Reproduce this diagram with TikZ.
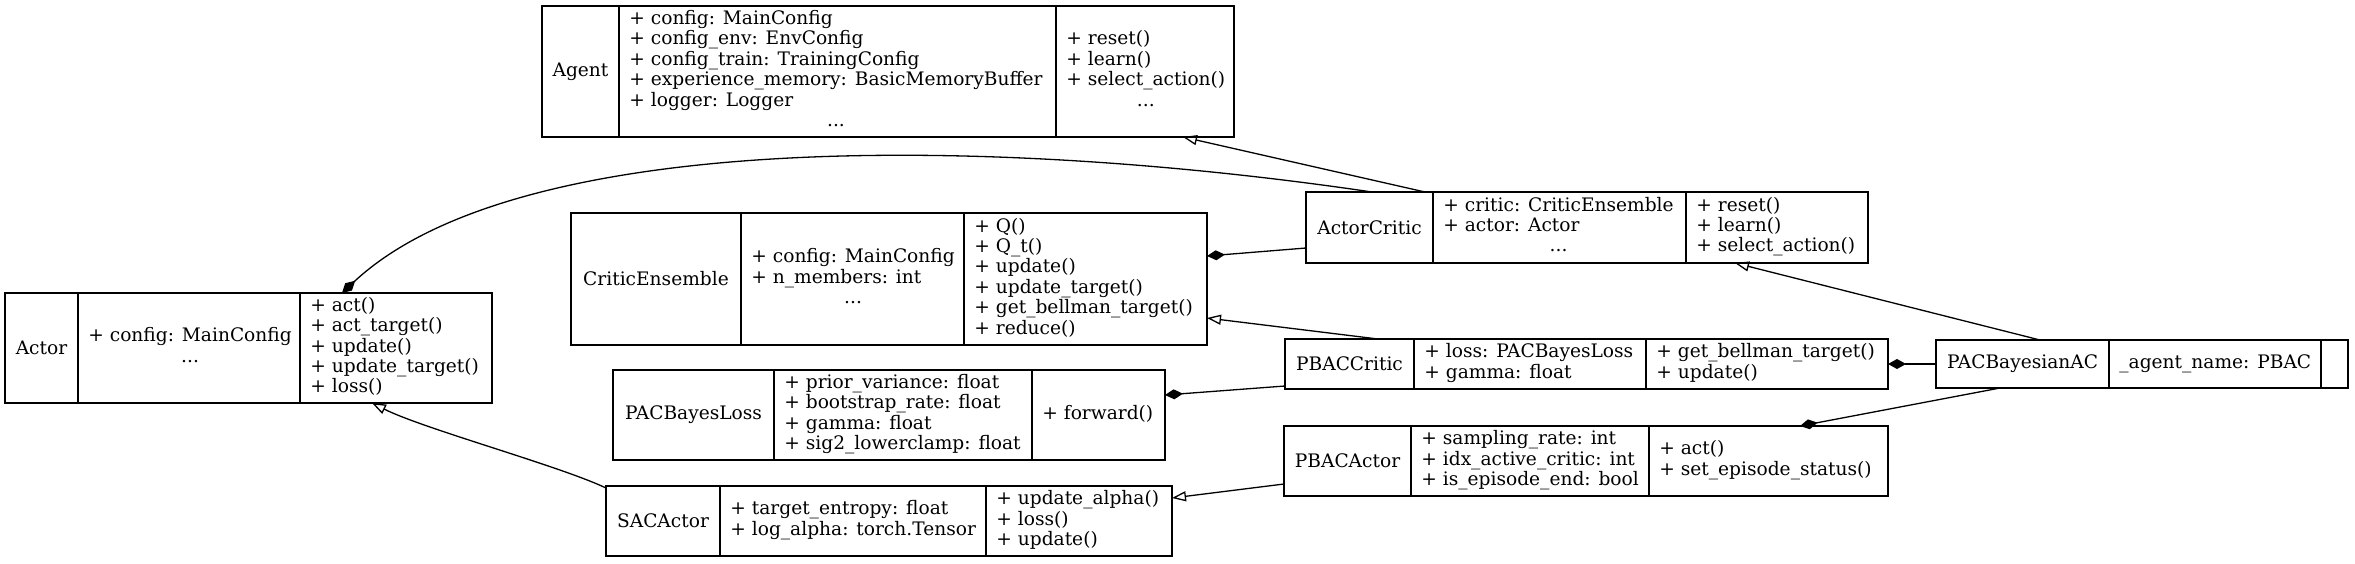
\documentclass[tikz,border=0pt]{standalone}
\usepackage{fontspec}
\setmainfont{DejaVu Serif}
\usetikzlibrary{arrows.meta,calc}
\newcommand\rec[8]{% name, style, L, d1, d2, R, T, B
  \pgfmathsetmacro\recw{(#6-#3)*0.5}%
  \pgfmathsetmacro\rech{(#8-#7)*0.5}%
  \node[#2, minimum width=\recw pt, minimum height=\rech pt] (#1) at ({(#3+#6)/2},{(#7+#8)/2}) {};
  \draw[#2] (#4,#7) -- (#4,#8) (#5,#7) -- (#5,#8);
}
\newcommand\lns[1]{\begin{tabular}{@{}l@{}}#1\end{tabular}}
\newcommand\mydots{\multicolumn{1}{@{}c@{}}{...}}
\begin{document}
\begin{tikzpicture}[x=0.5pt,y=-0.5pt,
  thickbox/.style={draw, line width=1.4pt, inner sep=0pt, outer sep=0pt},
  thinbox/.style={draw, line width=0.65pt, inner sep=0pt, outer sep=0pt},
  lbl/.style={font=\fontsize{9.3pt}{10.2pt}\selectfont, inner sep=0pt},
  fld/.style={lbl, anchor=west},
  inh/.style={-{Triangle[open,length=7pt,width=5pt]}, line width=0.65pt},
  comp/.style={-{Diamond[length=9pt,width=5pt]}, line width=0.65pt}]
\useasboundingbox (0,0) rectangle (2355,563);

% Agent
\rec{agent}{thickbox}{542}{619}{1056}{1234}{6}{137}
\node[lbl] (agent-n) at (580.5,71.5) {Agent};
\node[fld] (agent-a) at (629,71.5) {\lns{+ config: MainConfig\\ + config\_env: EnvConfig\\ + config\_train: TrainingConfig\\ + experience\_memory: BasicMemoryBuffer\\ + logger: Logger\\ \mydots}};
\node[fld] (agent-m) at (1066,71.5) {\lns{+ reset()\\ + learn()\\ + select\_action()\\ \mydots}};

% ActorCritic
\rec{actorcritic}{thickbox}{1306}{1433}{1686}{1868}{192}{263}
\node[lbl] (actorcritic-n) at (1369.5,227.5) {ActorCritic};
\node[fld] (actorcritic-a) at (1443,227.5) {\lns{+ critic: CriticEnsemble\\ + actor: Actor\\ \mydots}};
\node[fld] (actorcritic-m) at (1696,227.5) {\lns{+ reset()\\ + learn()\\ + select\_action()}};

% CriticEnsemble
\rec{criticensemble}{thickbox}{571}{741}{964}{1207}{213}{345}
\node[lbl] (criticensemble-n) at (656,279) {CriticEnsemble};
\node[fld] (criticensemble-a) at (751,279) {\lns{+ config: MainConfig\\ + n\_members: int\\ \mydots}};
\node[fld] (criticensemble-m) at (974,279) {\lns{+ Q()\\ + Q\_t()\\ + update()\\ + update\_target()\\ + get\_bellman\_target()\\ + reduce()}};

% Actor
\rec{actor}{thickbox}{5}{78}{300}{492}{293}{403}
\node[lbl] (actor-n) at (41.5,348) {Actor};
\node[fld] (actor-a) at (88,348) {\lns{+ config: MainConfig\\ \mydots}};
\node[fld] (actor-m) at (310,348) {\lns{+ act()\\ + act\_target()\\ + update()\\ + update\_target()\\ + loss()}};

% PBACCritic
\rec{pbaccritic}{thinbox}{1285}{1414}{1646}{1888}{339}{389}
\node[lbl] (pbaccritic-n) at (1349.5,364) {PBACCritic};
\node[fld] (pbaccritic-a) at (1424,364) {\lns{+ loss: PACBayesLoss\\ + gamma: float}};
\node[fld] (pbaccritic-m) at (1656,364) {\lns{+ get\_bellman\_target()\\ + update()}};

% PACBayesianAC
\rec{pacbayesianac}{thinbox}{1936}{2109}{2321}{2348}{340}{388}
\node[lbl] (pacbayesianac-n) at (2022.5,364) {PACBayesianAC};
\node[fld] (pacbayesianac-a) at (2119,364) {\_agent\_name: PBAC};

% PACBayesLoss
\rec{pacbayesloss}{thinbox}{613}{774}{1032}{1165}{370}{460}
\node[lbl] (pacbayesloss-n) at (693.5,415) {PACBayesLoss};
\node[fld] (pacbayesloss-a) at (784,415) {\lns{+ prior\_variance: float\\ + bootstrap\_rate: float\\ + gamma: float\\ + sig2\_lowerclamp: float}};
\node[fld] (pacbayesloss-m) at (1042,415) {\lns{+ forward()}};

% PBACActor
\rec{pbacactor}{thinbox}{1284}{1411}{1649}{1888}{426}{496}
\node[lbl] (pbacactor-n) at (1347.5,461) {PBACActor};
\node[fld] (pbacactor-a) at (1421,461) {\lns{+ sampling\_rate: int\\ + idx\_active\_critic: int\\ + is\_episode\_end: bool}};
\node[fld] (pbacactor-m) at (1659,461) {\lns{+ act()\\ + set\_episode\_status()}};

% SACActor
\rec{sacactor}{thinbox}{606}{720}{986}{1172}{486}{556}
\node[lbl] (sacactor-n) at (663,521) {SACActor};
\node[fld] (sacactor-a) at (730,521) {\lns{+ target\_entropy: float\\ + log\_alpha: torch.Tensor}};
\node[fld] (sacactor-m) at (996,521) {\lns{+ update\_alpha()\\ + loss()\\ + update()}};

% connectors
\draw[inh] ($(actorcritic.north west)+(119,0)$) -- ($(agent.south west)+(641,0)$);
\draw[comp] ($(actorcritic.north west)+(66,0)$) .. controls +(-372,-55) and +(178,-166) .. ($(actor.north west)+(337,0)$);
\draw[comp] ($(actorcritic.south west)+(0,-15)$) -- ($(criticensemble.north east)+(0,43)$);
\draw[inh] ($(pbaccritic.north west)+(93,0)$) -- ($(criticensemble.north east)+(0,105)$);
\draw[comp] ($(pbaccritic.south west)+(0,-3)$) -- ($(pacbayesloss.north east)+(0,25)$);
\draw[inh] ($(pacbayesianac.north west)+(104,0)$) -- ($(actorcritic.south west)+(429,0)$);
\draw[comp] (pacbayesianac.west) -- (pbaccritic.east);
\draw[comp] ($(pacbayesianac.south west)+(64,0)$) -- ($(pbacactor.north west)+(516,0)$);
\draw[inh] ($(pbacactor.south west)+(0,-12)$) -- ($(sacactor.north east)+(0,12)$);
\draw[inh] ($(sacactor.north west)+(0,2)$) .. controls +(-46,-22) and +(52,26) .. ($(actor.south west)+(367,0)$);
\end{tikzpicture}
\end{document}
